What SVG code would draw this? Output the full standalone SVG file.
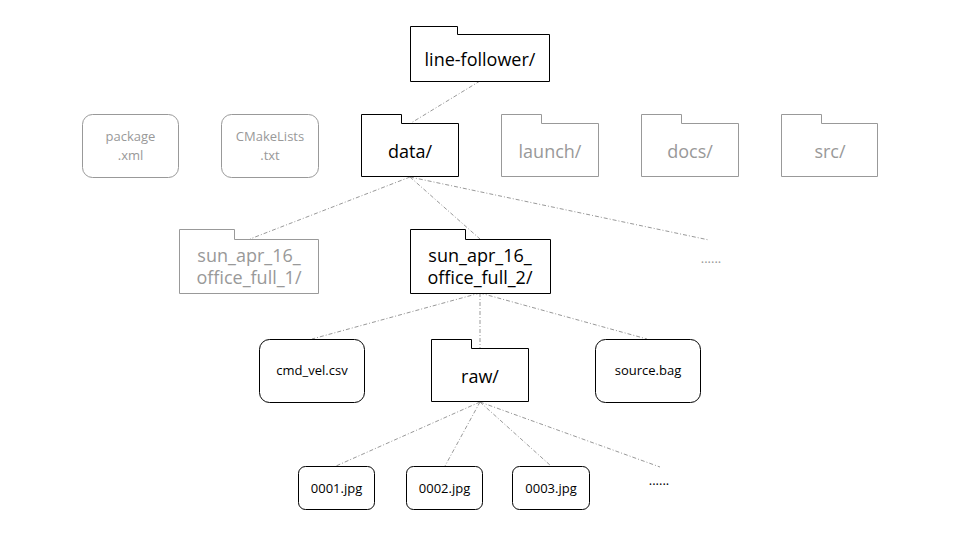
<svg xmlns="http://www.w3.org/2000/svg" width="960" height="540" viewBox="0 0 960 540">
<style>
.fb{fill:#fff;stroke:#000;stroke-width:1}
.fg{fill:#fff;stroke:#999;stroke-width:1}
.tb{font-family:"Open Sans","Noto Sans","DejaVu Sans",sans-serif;fill:#000;text-anchor:middle}
.tg{font-family:"Open Sans","Noto Sans","DejaVu Sans",sans-serif;fill:#999;text-anchor:middle}
.big{font-size:18px}
.sm{font-size:13px}
.c{fill:none;stroke:#999;stroke-width:1;stroke-dasharray:4 2 1 2}
</style>
<rect width="960" height="540" fill="#fff"/>
<g id="connectors">
<line class="c" x1="480" y1="81" x2="411" y2="123"/>
<line class="c" x1="410" y1="177" x2="250" y2="239"/>
<line class="c" x1="410" y1="177" x2="480" y2="239"/>
<line class="c" x1="410" y1="177" x2="709" y2="240"/>
<line class="c" x1="480" y1="293" x2="312" y2="339"/>
<line class="c" x1="480" y1="293" x2="480" y2="348"/>
<line class="c" x1="480" y1="293" x2="647" y2="339"/>
<line class="c" x1="480" y1="402" x2="336" y2="466"/>
<line class="c" x1="480" y1="402" x2="445" y2="466"/>
<line class="c" x1="480" y1="402" x2="551" y2="466"/>
<line class="c" x1="480" y1="402" x2="660" y2="467"/>
</g>
<g id="line-follower">
<path class="fb" d="M410.5,26.5H457.5V34.5H549.5V81.5H410.5Z"/>
<text class="tb big" x="480" y="66">line-follower/</text>
</g>
<g id="package-xml">
<rect class="fg" x="82.5" y="114.5" width="96" height="63" rx="10"/>
<text class="tg sm" x="130.5" y="141">package</text>
<text class="tg sm" x="130.5" y="160">.xml</text>
</g>
<g id="cmakelists">
<rect class="fg" x="221.5" y="114.5" width="97" height="63" rx="10"/>
<text class="tg sm" x="270" y="141">CMakeLists</text>
<text class="tg sm" x="270" y="160">.txt</text>
</g>
<g id="data">
<path class="fb" d="M361.5,114.5H401.5V123.5H458.5V176.5H361.5Z"/>
<text class="tb big" x="410" y="158">data/</text>
</g>
<g id="launch">
<path class="fg" d="M501.5,114.5H541.5V123.5H598.5V176.5H501.5Z"/>
<text class="tg big" x="550" y="158">launch/</text>
</g>
<g id="docs">
<path class="fg" d="M641.5,114.5H681.5V123.5H738.5V176.5H641.5Z"/>
<text class="tg big" x="690" y="158">docs/</text>
</g>
<g id="src">
<path class="fg" d="M781.5,114.5H821.5V123.5H877.5V176.5H781.5Z"/>
<text class="tg big" x="830" y="158">src/</text>
</g>
<g id="sun1">
<path class="fg" d="M179.5,229.5H234.5V239.5H318.5V293.5H179.5Z"/>
<text class="tg big" x="249" y="262">sun_apr_16_</text>
<text class="tg big" x="249" y="284">office_full_1/</text>
</g>
<g id="sun2">
<path class="fb" d="M410.5,229.5H465.5V239.5H550.5V293.5H410.5Z"/>
<text class="tb big" x="480" y="262">sun_apr_16_</text>
<text class="tb big" x="480" y="284">office_full_2/</text>
</g>
<g id="more1">
<text class="tg sm" x="711" y="263">......</text>
</g>
<g id="cmd-vel">
<rect class="fb" x="259.5" y="339.5" width="105" height="63" rx="10"/>
<text class="tb sm" x="312" y="375">cmd_vel.csv</text>
</g>
<g id="raw">
<path class="fb" d="M431.5,339.5H471.5V348.5H528.5V401.5H431.5Z"/>
<text class="tb big" x="480" y="383">raw/</text>
</g>
<g id="source-bag">
<rect class="fb" x="595.5" y="339.5" width="105" height="63" rx="10"/>
<text class="tb sm" x="648" y="375">source.bag</text>
</g>
<g id="jpg1">
<rect class="fb" x="298.5" y="466.5" width="76" height="43" rx="7"/>
<text class="tb sm" x="336.5" y="493">0001.jpg</text>
</g>
<g id="jpg2">
<rect class="fb" x="406.5" y="466.5" width="76" height="43" rx="7"/>
<text class="tb sm" x="444.5" y="493">0002.jpg</text>
</g>
<g id="jpg3">
<rect class="fb" x="512.5" y="466.5" width="77" height="43" rx="7"/>
<text class="tb sm" x="551" y="493">0003.jpg</text>
</g>
<g id="more2">
<text class="tb sm" x="659" y="485">......</text>
</g>
</svg>
